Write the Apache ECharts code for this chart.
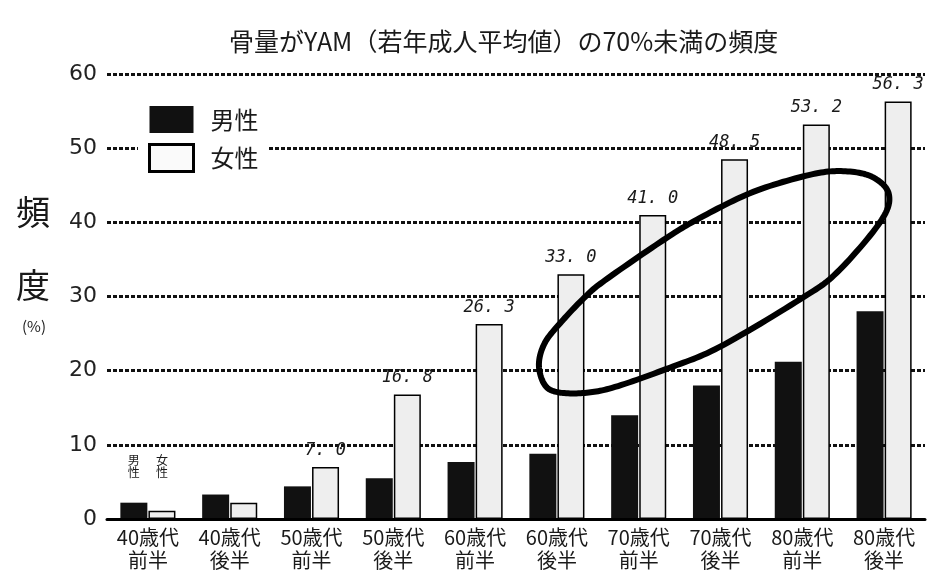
<!DOCTYPE html>
<html>
<head>
<meta charset="utf-8">
<script src="https://cdn.jsdelivr.net/npm/echarts@6/dist/echarts.min.js"></script>
<style>
  html, body { margin: 0; padding: 0; background: #fff; }
  #chart { width: 932px; height: 576px; }
</style>
</head>
<body>
<div id="chart"></div>
<script>
// Age groups (x categories)
const ageGroups = [
  '40歳代\n前半', '40歳代\n後半', '50歳代\n前半', '50歳代\n後半', '60歳代\n前半',
  '60歳代\n後半', '70歳代\n前半', '70歳代\n後半', '80歳代\n前半', '80歳代\n後半'
];
// Share (%) with bone mass below 70% of YAM
const maleRates = [2.2, 3.3, 4.4, 5.5, 7.7, 8.8, 14.0, 18.0, 21.2, 28.0];
const femaleRates = [1.1, 2.2, 7.0, 16.8, 26.3, 33.0, 41.0, 48.5, 53.2, 56.3];
const yTicks = [0, 10, 20, 30, 40, 50, 60];
// Hand-drawn ring around the 60s-80s bars, as [category position, value]
const ringPath = [
  [4.78, 20.8], [4.85, 18.1], [5.01, 17.1], [5.34, 17.0], [5.71, 17.8],
  [6.38, 20.4], [6.99, 23.2], [7.97, 29.6], [8.42, 33.2], [8.95, 40.0],
  [9.06, 43.7], [8.86, 46.1], [8.50, 46.9], [8.09, 46.4], [7.40, 44.1],
  [6.75, 40.6], [6.30, 37.6], [5.59, 32.2], [5.34, 29.9], [5.04, 26.4],
  [4.85, 23.7]
];

const FONT = '"Noto Sans CJK JP", "Noto Sans", sans-serif';
const INK = '#1a1a1a';

const tinyLabel = { show: true, position: 'top', fontSize: 12, lineHeight: 12, color: INK, fontStyle: 'normal', fontFamily: FONT };

const maleData = maleRates.map((v, i) => i === 0
  ? { value: v, label: Object.assign({}, tinyLabel, { formatter: '男\n性', distance: 24 }) }
  : { value: v });

const femaleData = femaleRates.map((v, i) => {
  if (i === 0) return { value: v, label: Object.assign({}, tinyLabel, { formatter: '女\n性', distance: 32 }) };
  return { value: v, label: { show: i >= 2 } };
});

const chart = echarts.init(document.getElementById('chart'), null, { renderer: 'canvas' });

chart.setOption({
  animation: false,
  backgroundColor: '#fff',
  textStyle: { fontFamily: FONT },
  title: {
    text: '骨量がYAM（若年成人平均値）の70%未満の頻度',
    left: 224, top: 24,
    textStyle: { fontSize: 25, fontWeight: 'normal', color: INK, fontFamily: FONT }
  },
  legend: {
    orient: 'vertical',
    left: 138, top: 100,
    padding: [6, 10, 6, 10],
    backgroundColor: '#fff',
    itemWidth: 44, itemHeight: 27, itemGap: 10,
    icon: 'rect',
    textStyle: { fontSize: 24, color: INK, fontFamily: FONT, padding: [0, 0, 0, 12] },
    data: [
      { name: '男性' },
      { name: '女性', itemStyle: { borderWidth: 3, color: '#fafafa' } }
    ],
    z: 5
  },
  grid: { left: 107, right: 7, top: 74, bottom: 57, containLabel: false },
  xAxis: {
    type: 'category',
    data: ageGroups,
    axisLine: { lineStyle: { color: '#000', width: 3 } },
    axisTick: { show: false },
    axisLabel: { fontSize: 20, lineHeight: 23, color: INK, margin: 7, fontFamily: FONT },
    z: 4
  },
  yAxis: {
    type: 'value',
    min: yTicks[0], max: yTicks[yTicks.length - 1], interval: 10,
    axisLine: { show: false },
    axisTick: { show: false },
    axisLabel: { fontSize: 22, color: '#222', margin: 10, fontFamily: '"DejaVu Sans", sans-serif' },
    splitLine: { lineStyle: { type: [4, 2], width: 3, color: '#111' } }
  },
  series: [
    {
      name: '男性', type: 'bar',
      barWidth: 27, barGap: '4%',
      itemStyle: { color: '#111' },
      data: maleData,
      z: 3
    },
    {
      name: '女性', type: 'bar',
      barWidth: 27,
      itemStyle: { color: '#eeeeee', borderColor: '#000', borderWidth: 1.5 },
      label: {
        show: false, position: 'top', distance: 8,
        fontSize: 17, fontStyle: 'italic', color: INK,
        fontFamily: '"DejaVu Sans Mono", "Liberation Mono", monospace',
        formatter: p => p.value.toFixed(1).replace('.', '. ')
      },
      data: femaleData,
      z: 3
    }
  ],
  graphic: [
    { id: 'yt1', type: 'text', left: 16, top: 195, style: { text: '頻', font: '34px ' + FONT, fill: INK } },
    { id: 'yt2', type: 'text', left: 16, top: 268, style: { text: '度', font: '34px ' + FONT, fill: INK } },
    { id: 'yt3', type: 'text', left: 22, top: 319, style: { text: '(%)', font: '15px ' + FONT, fill: INK } }
  ]
});

// Position along the category axis may be fractional, so interpolate between neighbours
function toPixel(pos, value) {
  const i0 = Math.max(0, Math.min(Math.floor(pos), ageGroups.length - 2));
  const t = pos - i0;
  const a = chart.convertToPixel({ gridIndex: 0 }, [i0, value]);
  const b = chart.convertToPixel({ gridIndex: 0 }, [i0 + 1, value]);
  return [a[0] + (b[0] - a[0]) * t, a[1]];
}

// Densely sampled closed Catmull-Rom curve through the given points
function closedCurve(pts, steps) {
  const n = pts.length;
  const out = [];
  for (let i = 0; i < n; i++) {
    const p0 = pts[(i - 1 + n) % n], p1 = pts[i], p2 = pts[(i + 1) % n], p3 = pts[(i + 2) % n];
    for (let s = 0; s < steps; s++) {
      const t = s / steps, t2 = t * t, t3 = t2 * t;
      const pt = [0, 1].map(k => 0.5 * (
        2 * p1[k] + (-p0[k] + p2[k]) * t +
        (2 * p0[k] - 5 * p1[k] + 4 * p2[k] - p3[k]) * t2 +
        (-p0[k] + 3 * p1[k] - 3 * p2[k] + p3[k]) * t3));
      out.push(pt);
    }
  }
  return out;
}

chart.setOption({
  graphic: [
    {
      id: 'ring', type: 'polygon', z: 100,
      shape: { points: closedCurve(ringPath.map(p => toPixel(p[0], p[1])), 14) },
      style: { fill: 'none', stroke: '#000', lineWidth: 6, lineJoin: 'round' }
    }
  ]
});
</script>
</body>
</html>
